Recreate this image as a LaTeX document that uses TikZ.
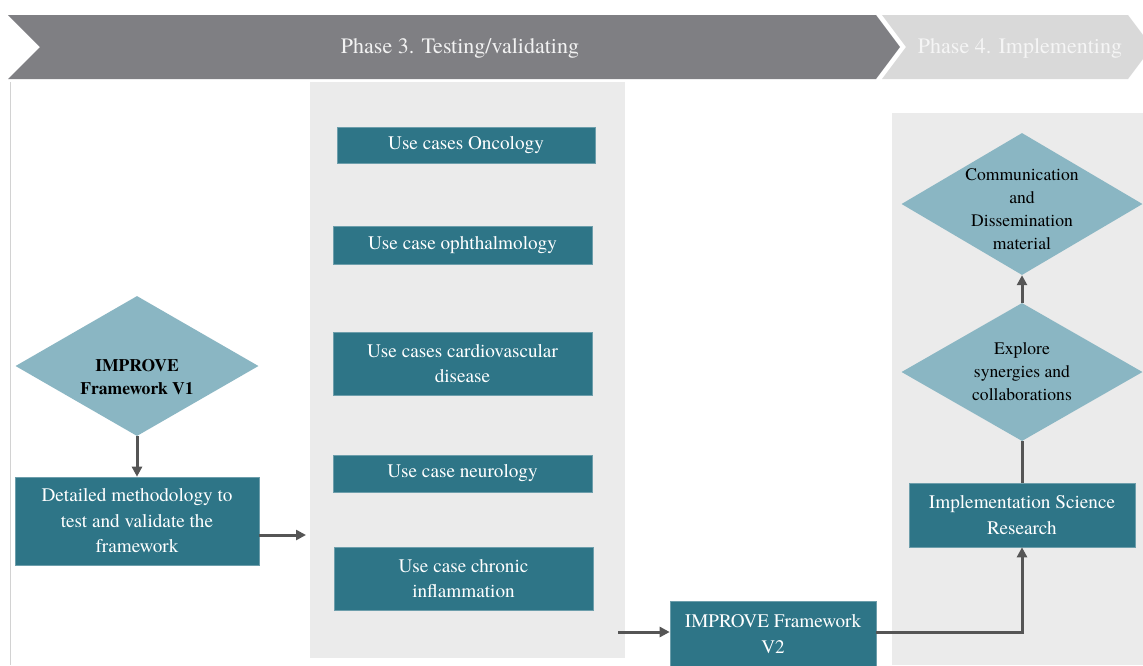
\documentclass[tikz,border=0pt]{standalone}
\usepackage{fontspec}
\setmainfont{TeX Gyre Termes}
\usetikzlibrary{shapes.geometric,arrows.meta}
\definecolor{teal1}{RGB}{46,117,135}
\definecolor{lightdia}{RGB}{138,182,195}
\definecolor{chevdark}{RGB}{127,127,131}
\definecolor{chevlight}{RGB}{217,217,217}
\definecolor{panel}{RGB}{235,235,235}
\definecolor{arrowc}{RGB}{85,85,85}
\tikzset{
  tbox/.style={rectangle, fill=teal1, draw=teal1!70!white, line width=0.6pt, text=white, align=center, inner sep=0pt, font=\fontsize{19.2}{25.5}\selectfont},
  dia/.style={diamond, fill=lightdia, inner sep=0pt},
  diatext/.style={align=center, text=black, font=\fontsize{17.6}{23}\selectfont},
  conn/.style={draw=arrowc, line width=3pt},
  arr/.style={conn, -{Triangle[length=10pt,width=10pt]}},
  phase/.style={font=\fontsize{22}{26}\selectfont},
}
\begin{document}
\begin{tikzpicture}[x=1pt,y=-1pt]
\useasboundingbox (0,0) rectangle (1143,665);
\fill[white] (0,0) rectangle (1143,665);
% chevrons
\fill[chevdark] (8,15) -- (876,15) -- (900,47) -- (876,79) -- (8,79) -- (40,47) -- cycle;
\fill[chevlight] (882,15) -- (1128,15) -- (1152,47) -- (1128,79) -- (882,79) -- (906,47) -- cycle;
\node[phase, text=white!95!black] (ph3) at (460,48) {Phase 3. Testing/validating};
\node[phase, text=white!96!black] (ph4) at (1020,48) {Phase 4. Implementing};
% left thin line
\draw[gray!35, line width=1pt] (10,82) -- (10,665);
% panels
\fill[panel] (310,82) rectangle (625,658);
\fill[panel] (892,113) rectangle (1143,665);
% left nodes
\node[dia, minimum width=243pt, minimum height=140pt] (v1) at (137,366) {};
\node[diatext, font=\bfseries\fontsize{17.6}{23}\selectfont] at ([yshift=-11.5pt]v1.center) {IMPROVE\\Framework V1};
\node[tbox, minimum width=244pt, minimum height=88pt] (meth) at (137,521) {Detailed methodology to\\test and validate the\\framework};
\coordinate (methend) at (306,535);
% use cases
\node[tbox, minimum width=258pt, minimum height=36pt] (onc) at (466,145) {Use cases Oncology};
\node[tbox, minimum width=259pt, minimum height=38pt] (oph) at (462.5,245) {Use case ophthalmology};
\node[tbox, minimum width=259pt, minimum height=63pt] (card) at (462.5,363.5) {Use cases cardiovascular\\disease};
\node[tbox, minimum width=259pt, minimum height=37pt] (neu) at (462.5,473.5) {Use case neurology};
\node[tbox, minimum width=259pt, minimum height=63pt] (chr) at (463.5,578.5) {Use case chronic\\inflammation};
% V2
\node[tbox, minimum width=206pt, minimum height=66pt] (v2) at (773,634) {IMPROVE Framework\\V2};
\coordinate (v2start) at (618,632);
% right column
\node[tbox, minimum width=226pt, minimum height=64pt] (impl) at (1022,515) {Implementation Science\\Research};
\node[dia, minimum width=241pt, minimum height=138pt] (expl) at (1022,372) {};
\node[diatext] at (expl.center) {Explore\\synergies and\\collaborations};
\node[dia, minimum width=241pt, minimum height=142pt] (comm) at (1022,204) {};
\node[diatext] at ([yshift=-5.5pt]comm.center) {Communication\\and\\Dissemination\\material};
% connectors
\draw[arr] (v1.south) -- (meth.north);
\draw[arr] (meth.east |- methend) -- (methend);
\draw[arr] (v2start) -- (v2.west |- v2start);
\draw[arr] (v2.east |- v2start) -- (impl.south |- v2start) -- (impl.south);
\draw[conn] (impl.north) -- (expl.south);
\draw[arr] (expl.north) -- (comm.south);
\end{tikzpicture}
\end{document}
